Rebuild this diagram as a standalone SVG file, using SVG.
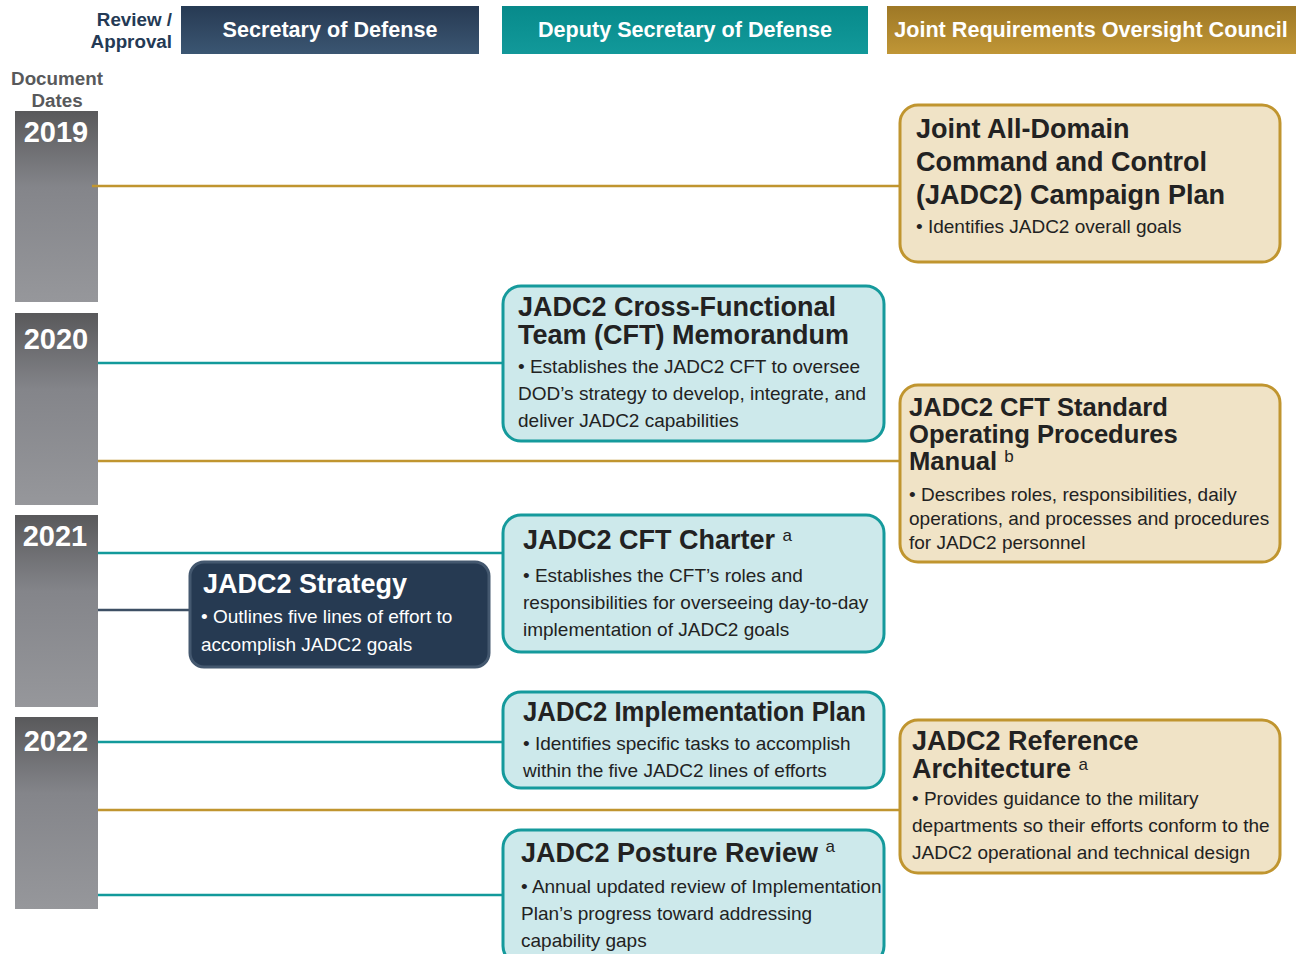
<svg xmlns="http://www.w3.org/2000/svg" width="1296" height="954" viewBox="0 0 1296 954">
<defs>
<linearGradient id="gBar" x1="0" y1="0" x2="0" y2="1">
<stop offset="0" stop-color="#59595b"/><stop offset="0.4" stop-color="#84858a"/><stop offset="1" stop-color="#96979b"/>
</linearGradient>
<linearGradient id="gNavy" x1="0" y1="0" x2="0" y2="1">
<stop offset="0" stop-color="#273a53"/><stop offset="1" stop-color="#3b5672"/>
</linearGradient>
<linearGradient id="gTeal" x1="0" y1="0" x2="0" y2="1">
<stop offset="0" stop-color="#078a8b"/><stop offset="1" stop-color="#12999a"/>
</linearGradient>
<linearGradient id="gGold" x1="0" y1="0" x2="0" y2="1">
<stop offset="0" stop-color="#9e7826"/><stop offset="1" stop-color="#c09636"/>
</linearGradient>
</defs>
<style>
text{font-family:"Liberation Sans",Arial,sans-serif}
.hdr{font-size:21.6px;font-weight:bold;fill:#fff;text-anchor:middle}
.lab{font-size:18.8px;font-weight:bold}
.yr{font-size:29px;font-weight:bold;fill:#fff;text-anchor:middle}
.t{font-size:27px;font-weight:bold;fill:#222}
.b{font-size:19px;fill:#222}
.sup{font-size:17px;font-weight:normal;fill:#222}
.teal{fill:#cde9eb;stroke:#159a9c;stroke-width:3}
.gold{fill:#f0e3c6;stroke:#c0952f;stroke-width:3}
.navy{fill:#263a52;stroke:#44586f;stroke-width:3}
.lt{stroke:#139a9b;stroke-width:2.5;fill:none}
.lg{stroke:#c0952f;stroke-width:2.5;fill:none}
.ln{stroke:#3d4f64;stroke-width:2.5;fill:none}
</style>
<g id="header">
<text class="lab" x="172" y="26" text-anchor="end" fill="#243a55">Review /</text>
<text class="lab" x="172" y="48" text-anchor="end" fill="#243a55">Approval</text>
<rect x="181" y="6" width="298" height="48" fill="url(#gNavy)"/>
<text class="hdr" x="330" y="37">Secretary of Defense</text>
<rect x="502" y="6" width="366" height="48" fill="url(#gTeal)"/>
<text class="hdr" x="685" y="37">Deputy Secretary of Defense</text>
<rect x="887" y="6" width="409" height="48" fill="url(#gGold)"/>
<text class="hdr" x="1091" y="37">Joint Requirements Oversight Council</text>
<text class="lab" x="57" y="85" text-anchor="middle" fill="#58595b">Document</text>
<text class="lab" x="57" y="107" text-anchor="middle" fill="#58595b">Dates</text>
</g>
<g id="years">
<rect x="15" y="111" width="83" height="191" fill="url(#gBar)"/>
<text class="yr" x="56" y="142">2019</text>
<rect x="15" y="313" width="83" height="192" fill="url(#gBar)"/>
<text class="yr" x="56" y="349">2020</text>
<rect x="15" y="515" width="83" height="192" fill="url(#gBar)"/>
<text class="yr" x="55" y="546">2021</text>
<rect x="15" y="717" width="83" height="192" fill="url(#gBar)"/>
<text class="yr" x="56" y="751">2022</text>
</g>
<g id="connectors">
<line class="lg" x1="92" y1="186" x2="901" y2="186"/>
<line class="lt" x1="98" y1="363" x2="504" y2="363"/>
<line class="lg" x1="98" y1="461" x2="901" y2="461"/>
<line class="lt" x1="98" y1="553" x2="504" y2="553"/>
<line class="ln" x1="98" y1="610" x2="191" y2="610"/>
<line class="lt" x1="98" y1="742" x2="504" y2="742"/>
<line class="lg" x1="98" y1="810" x2="901" y2="810"/>
<line class="lt" x1="98" y1="895" x2="504" y2="895"/>
</g>
<g id="campaign-plan">
<rect class="gold" x="900" y="105" width="380" height="157" rx="18"/>
<text class="t" x="916" y="138">Joint All-Domain<tspan x="916" dy="33">Command and Control</tspan><tspan x="916" dy="33">(JADC2) Campaign Plan</tspan></text>
<text class="b" x="916" y="233">• Identifies JADC2 overall goals</text>
</g>
<g id="cft-memo">
<rect class="teal" x="503" y="286" width="381" height="155" rx="18"/>
<text class="t" x="518" y="316">JADC2 Cross-Functional<tspan x="518" dy="28">Team (CFT) Memorandum</tspan></text>
<text class="b" x="518" y="373">• Establishes the JADC2 CFT to oversee</text>
<text class="b" x="518" y="400">DOD’s strategy to develop, integrate, and</text>
<text class="b" x="518" y="427">deliver JADC2 capabilities</text>
</g>
<g id="sop-manual">
<rect class="gold" x="900" y="385" width="380" height="177" rx="18"/>
<text class="t" x="909" y="416" style="font-size:25.6px">JADC2 CFT Standard<tspan x="909" dy="27">Operating Procedures</tspan><tspan x="909" dy="27">Manual </tspan><tspan class="sup" dy="-8">b</tspan></text>
<text class="b" x="909" y="501">• Describes roles, responsibilities, daily</text>
<text class="b" x="909" y="525">operations, and processes and procedures</text>
<text class="b" x="909" y="549">for JADC2 personnel</text>
</g>
<g id="cft-charter">
<rect class="teal" x="503" y="515" width="381" height="137" rx="18"/>
<text class="t" x="523" y="549">JADC2 CFT Charter <tspan class="sup" dy="-8">a</tspan></text>
<text class="b" x="523" y="582">• Establishes the CFT’s roles and</text>
<text class="b" x="523" y="609">responsibilities for overseeing day-to-day</text>
<text class="b" x="523" y="636">implementation of JADC2 goals</text>
</g>
<g id="strategy">
<rect class="navy" x="190" y="562" width="299" height="105" rx="14"/>
<text class="t" x="203" y="593" style="fill:#fff">JADC2 Strategy</text>
<text class="b" x="201" y="623" style="fill:#fff">• Outlines five lines of effort to</text>
<text class="b" x="201" y="651" style="fill:#fff">accomplish JADC2 goals</text>
</g>
<g id="implementation-plan">
<rect class="teal" x="503" y="692" width="381" height="96" rx="18"/>
<text class="t" x="523" y="721" textLength="343" lengthAdjust="spacingAndGlyphs">JADC2 Implementation Plan</text>
<text class="b" x="523" y="750">• Identifies specific tasks to accomplish</text>
<text class="b" x="523" y="777">within the five JADC2 lines of efforts</text>
</g>
<g id="reference-architecture">
<rect class="gold" x="900" y="720" width="380" height="153" rx="18"/>
<text class="t" x="912" y="750">JADC2 Reference<tspan x="912" dy="28">Architecture </tspan><tspan class="sup" dy="-8">a</tspan></text>
<text class="b" x="912" y="805">• Provides guidance to the military</text>
<text class="b" x="912" y="832">departments so their efforts conform to the</text>
<text class="b" x="912" y="859">JADC2 operational and technical design</text>
</g>
<g id="posture-review">
<rect class="teal" x="503" y="830" width="381" height="134" rx="18"/>
<text class="t" x="521" y="862">JADC2 Posture Review <tspan class="sup" dy="-10">a</tspan></text>
<text class="b" x="521" y="893">• Annual updated review of Implementation</text>
<text class="b" x="521" y="920">Plan’s progress toward addressing</text>
<text class="b" x="521" y="947">capability gaps</text>
</g>
</svg>
